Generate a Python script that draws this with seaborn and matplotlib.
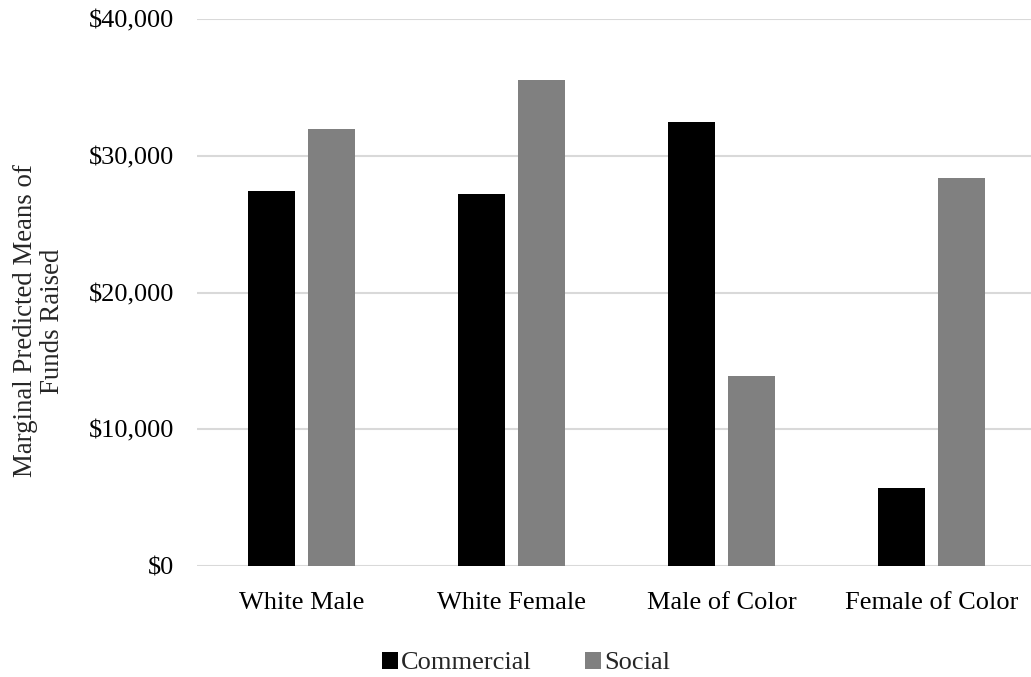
import matplotlib
matplotlib.use("Agg")
import matplotlib.pyplot as plt
from matplotlib.patches import Patch
from matplotlib.ticker import FuncFormatter
import seaborn as sns
import pandas as pd

groups = ["White Male", "White Female", "Male of Color", "Female of Color"]
commercial = [27450, 27200, 32450, 5730]
social = [31950, 35540, 13880, 28370]
series_names = ["Commercial", "Social"]
series_colors = ["#000000", "#808080"]
y_ticks = [0, 10000, 20000, 30000, 40000]

df = pd.DataFrame({
    "group": groups * 2,
    "value": commercial + social,
    "type": [series_names[0]] * len(groups) + [series_names[1]] * len(groups),
})

sns.set_theme(style="white")
plt.rcParams["font.family"] = ["Liberation Serif", "DejaVu Serif"]

W, H = 1031, 677
FS = 19
fig = plt.figure(figsize=(W / 100, H / 100), dpi=100)
ax = fig.add_axes([196.5 / W, (H - 566) / H, (W - 196.5) / W, (566 - 19) / H])

sns.barplot(data=df, x="group", y="value", hue="type", order=groups,
            hue_order=series_names, palette=series_colors, width=0.571,
            gap=0.21, saturation=1, edgecolor="none", linewidth=0,
            legend=False, ax=ax, zorder=3)

ax.set_xlim(-0.5, -0.5 + (W - 196.5) / 210)
ax.set_ylim(0, 40000)
ax.set_yticks(y_ticks)
ax.yaxis.set_major_formatter(FuncFormatter(lambda v, p: f"${v:,.0f}"))
ax.grid(axis="y", color="#d9d9d9", linewidth=1.5, zorder=0)
ax.grid(axis="x", visible=False)
for s in ax.spines.values():
    s.set_visible(False)
ax.tick_params(axis="both", length=0, labelsize=FS, colors="#000000")
ax.tick_params(axis="y", pad=16)
ax.tick_params(axis="x", pad=19)
ax.set_xlabel("")
ax.set_ylabel("")

fig.text(39 / W, 1 - 321 / H, "Marginal Predicted Means of\nFunds Raised",
         rotation=90, ha="center", va="center", fontsize=19.4,
         linespacing=1.15)

handles = [Patch(facecolor=c, edgecolor="none") for c in series_colors]
fig.legend(handles, series_names, loc="center", bbox_to_anchor=(526 / W, 1 - 663 / H),
           ncol=2, frameon=False, fontsize=FS, handlelength=0.62,
           handleheight=0.62, handletextpad=0.12, columnspacing=2.0)

fig.savefig("out.png", dpi=100)
